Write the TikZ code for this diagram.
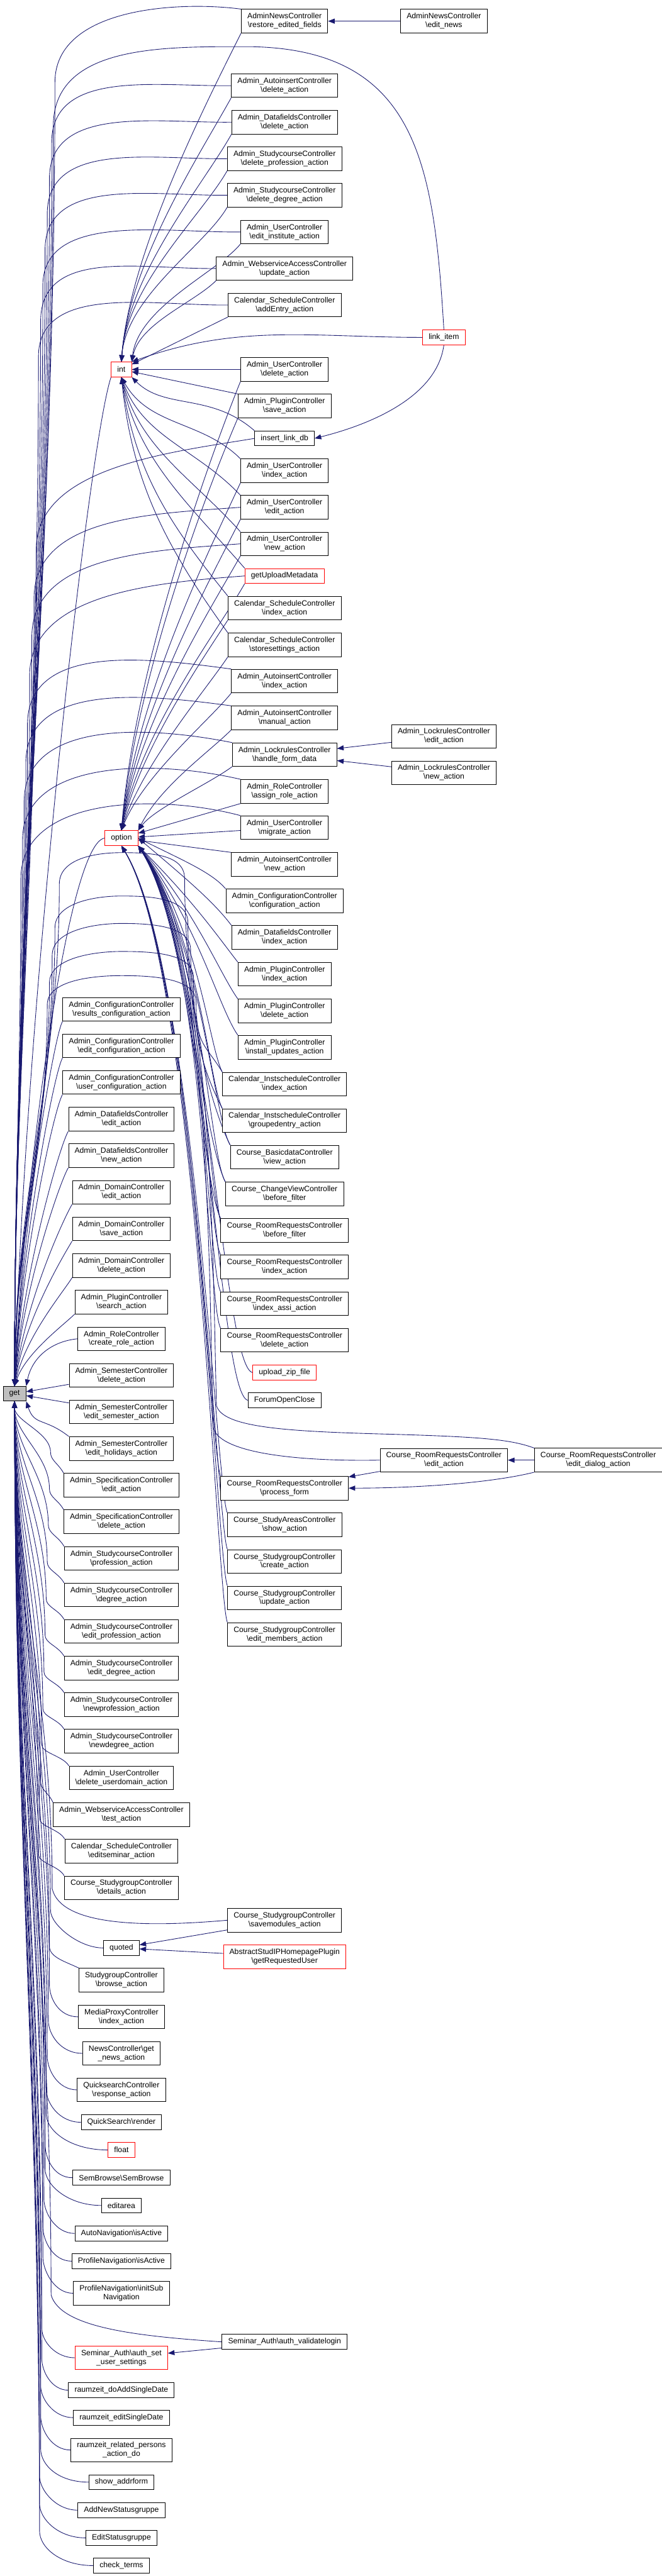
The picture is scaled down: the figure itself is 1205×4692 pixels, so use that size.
\documentclass[tikz,border=0pt]{standalone}
\usepackage{fontspec}
\setmainfont{Liberation Sans}
\usepackage{tikz}
\usetikzlibrary{arrows.meta,backgrounds}
\definecolor{navyline}{HTML}{191970}
\definecolor{rootfill}{HTML}{BFBFBF}
\definecolor{trunc}{HTML}{FF0000}
\tikzset{
  fn/.style={rectangle,draw=black,fill=white,line width=0.5pt,align=center,
    font=\fontsize{7}{8}\selectfont,inner xsep=5.5pt,inner ysep=3.5pt,minimum height=13.5pt},
  fnr/.style={fn,draw=trunc},
  fnroot/.style={fn,fill=rootfill},
  ar/.style={-{Triangle[length=6pt,width=4.6pt]},draw=navyline,line width=0.5pt},
}
\begin{document}
\begin{tikzpicture}[x=0.5pt,y=0.5pt]
  \useasboundingbox (0,0) rectangle (1205,-4692);
  \begin{scope}[on background layer]
    \fill[white] (0,0) rectangle (1205,-4692);
  \end{scope}
  \node[fnroot] (get) at (26.5,-2538.5) {get};
  \node[fnr] (int) at (221,-673) {int};
  \node[fnr] (option) at (221,-1526.5) {option};

  \node[fn] (nrest) at (518,-38.5) {AdminNewsController\\\textbackslash restore\_edited\_fields};
  \node[fn] (nedit) at (808,-38.5) {AdminNewsController\\\textbackslash edit\_news};
  \node[fn] (aidel) at (518,-156) {Admin\_AutoinsertController\\\textbackslash delete\_action};
  \node[fn] (dfdel) at (518,-222.5) {Admin\_DatafieldsController\\\textbackslash delete\_action};
  \node[fn] (scdelp) at (518,-289) {Admin\_StudycourseController\\\textbackslash delete\_profession\_action};
  \node[fn] (scdeld) at (518,-355.5) {Admin\_StudycourseController\\\textbackslash delete\_degree\_action};
  \node[fn] (uinst) at (518,-422.5) {Admin\_UserController\\\textbackslash edit\_institute\_action};
  \node[fn] (wsupd) at (518,-489) {Admin\_WebserviceAccessController\\\textbackslash update\_action};
  \node[fn] (calentry) at (518,-555.5) {Calendar\_ScheduleController\\\textbackslash addEntry\_action};
  \node[fnr] (linkitem) at (808,-614.5) {link\_item};
  \node[fn] (udel) at (518,-673) {Admin\_UserController\\\textbackslash delete\_action};
  \node[fn] (plsave) at (518,-739.5) {Admin\_PluginController\\\textbackslash save\_action};
  \node[fn] (insertlink) at (518,-798.5) {insert\_link\_db};
  \node[fn] (uindex) at (518,-857.5) {Admin\_UserController\\\textbackslash index\_action};
  \node[fn] (uedit) at (518,-924) {Admin\_UserController\\\textbackslash edit\_action};
  \node[fn] (unew) at (518,-990.5) {Admin\_UserController\\\textbackslash new\_action};
  \node[fnr] (getupload) at (518,-1049) {getUploadMetadata};
  \node[fn] (calindex) at (518,-1107.5) {Calendar\_ScheduleController\\\textbackslash index\_action};
  \node[fn] (calstore) at (518,-1174.5) {Calendar\_ScheduleController\\\textbackslash storesettings\_action};
  \node[fn] (aiindex) at (518,-1240.5) {Admin\_AutoinsertController\\\textbackslash index\_action};
  \node[fn] (aimanual) at (518,-1307.5) {Admin\_AutoinsertController\\\textbackslash manual\_action};
  \node[fn] (lrhandle) at (518,-1374.5) {Admin\_LockrulesController\\\textbackslash handle\_form\_data};
  \node[fn] (lredit) at (808,-1341) {Admin\_LockrulesController\\\textbackslash edit\_action};
  \node[fn] (lrnew) at (808,-1407.5) {Admin\_LockrulesController\\\textbackslash new\_action};
  \node[fn] (roleassign) at (518,-1441.5) {Admin\_RoleController\\\textbackslash assign\_role\_action};
  \node[fn] (umigrate) at (518,-1507.5) {Admin\_UserController\\\textbackslash migrate\_action};
  \node[fn] (ainew) at (518,-1574.5) {Admin\_AutoinsertController\\\textbackslash new\_action};
  \node[fn] (cfgconf) at (518,-1641) {Admin\_ConfigurationController\\\textbackslash configuration\_action};
  \node[fn] (dfindex) at (518,-1707.5) {Admin\_DatafieldsController\\\textbackslash index\_action};
  \node[fn] (plindex) at (518,-1774.5) {Admin\_PluginController\\\textbackslash index\_action};
  \node[fn] (pldel) at (518,-1841.5) {Admin\_PluginController\\\textbackslash delete\_action};
  \node[fn] (plinstall) at (518,-1907.5) {Admin\_PluginController\\\textbackslash install\_updates\_action};
  \node[fn] (isindex) at (518,-1974.5) {Calendar\_InstscheduleController\\\textbackslash index\_action};
  \node[fn] (isgroup) at (518,-2041) {Calendar\_InstscheduleController\\\textbackslash groupedentry\_action};
  \node[fn] (bdview) at (518,-2107.5) {Course\_BasicdataController\\\textbackslash view\_action};
  \node[fn] (cvbefore) at (518,-2174.5) {Course\_ChangeViewController\\\textbackslash before\_filter};
  \node[fn] (rrbefore) at (518,-2241) {Course\_RoomRequestsController\\\textbackslash before\_filter};
  \node[fn] (rrindex) at (518,-2307.5) {Course\_RoomRequestsController\\\textbackslash index\_action};
  \node[fn] (rrassi) at (518,-2374.5) {Course\_RoomRequestsController\\\textbackslash index\_assi\_action};
  \node[fn] (rrdel) at (518,-2441) {Course\_RoomRequestsController\\\textbackslash delete\_action};
  \node[fnr] (uploadzip) at (518,-2500) {upload\_zip\_file};
  \node[fn] (forum) at (518,-2550.5) {ForumOpenClose};
  \node[fn] (rredit) at (808,-2659.5) {Course\_RoomRequestsController\\\textbackslash edit\_action};
  \node[fn] (rrdialog) at (1089,-2659.5) {Course\_RoomRequestsController\\\textbackslash edit\_dialog\_action};
  \node[fn] (rrprocess) at (518,-2710.5) {Course\_RoomRequestsController\\\textbackslash process\_form};
  \node[fn] (sashow) at (518,-2777) {Course\_StudyAreasController\\\textbackslash show\_action};
  \node[fn] (sgcreate) at (518,-2844) {Course\_StudygroupController\\\textbackslash create\_action};
  \node[fn] (sgupdate) at (518,-2910.5) {Course\_StudygroupController\\\textbackslash update\_action};
  \node[fn] (sgmembers) at (518,-2977) {Course\_StudygroupController\\\textbackslash edit\_members\_action};
  \node[fn] (sgsave) at (518,-3497.5) {Course\_StudygroupController\\\textbackslash savemodules\_action};
  \node[fnr] (getreq) at (518,-3564) {AbstractStudIPHomepagePlugin\\\textbackslash getRequestedUser};
  \node[fn] (authvalid) at (518,-4265.5) {Seminar\_Auth\textbackslash auth\_validatelogin};

  \node[fn] (cfgres) at (221,-1838.5) {Admin\_ConfigurationController\\\textbackslash results\_configuration\_action};
  \node[fn] (cfgedit) at (221,-1905) {Admin\_ConfigurationController\\\textbackslash edit\_configuration\_action};
  \node[fn] (cfguser) at (221,-1971.5) {Admin\_ConfigurationController\\\textbackslash user\_configuration\_action};
  \node[fn] (dfedit) at (221,-2038.5) {Admin\_DatafieldsController\\\textbackslash edit\_action};
  \node[fn] (dfnew) at (221,-2105) {Admin\_DatafieldsController\\\textbackslash new\_action};
  \node[fn] (domedit) at (221,-2171.5) {Admin\_DomainController\\\textbackslash edit\_action};
  \node[fn] (domsave) at (221,-2238.5) {Admin\_DomainController\\\textbackslash save\_action};
  \node[fn] (domdel) at (221,-2305) {Admin\_DomainController\\\textbackslash delete\_action};
  \node[fn] (plsearch) at (221,-2371.5) {Admin\_PluginController\\\textbackslash search\_action};
  \node[fn] (rolecreate) at (221,-2438.5) {Admin\_RoleController\\\textbackslash create\_role\_action};
  \node[fn] (semdel) at (221,-2505) {Admin\_SemesterController\\\textbackslash delete\_action};
  \node[fn] (semedit) at (221,-2571.5) {Admin\_SemesterController\\\textbackslash edit\_semester\_action};
  \node[fn] (semhol) at (221,-2638.5) {Admin\_SemesterController\\\textbackslash edit\_holidays\_action};
  \node[fn] (specedit) at (221,-2705) {Admin\_SpecificationController\\\textbackslash edit\_action};
  \node[fn] (specdel) at (221,-2771.5) {Admin\_SpecificationController\\\textbackslash delete\_action};
  \node[fn] (scprof) at (221,-2838.5) {Admin\_StudycourseController\\\textbackslash profession\_action};
  \node[fn] (scdeg) at (221,-2905) {Admin\_StudycourseController\\\textbackslash degree\_action};
  \node[fn] (sceditp) at (221,-2971.5) {Admin\_StudycourseController\\\textbackslash edit\_profession\_action};
  \node[fn] (sceditd) at (221,-3038.5) {Admin\_StudycourseController\\\textbackslash edit\_degree\_action};
  \node[fn] (scnewp) at (221,-3105) {Admin\_StudycourseController\\\textbackslash newprofession\_action};
  \node[fn] (scnewd) at (221,-3171.5) {Admin\_StudycourseController\\\textbackslash newdegree\_action};
  \node[fn] (udeldom) at (221,-3238.5) {Admin\_UserController\\\textbackslash delete\_userdomain\_action};
  \node[fn] (wstest) at (221,-3305) {Admin\_WebserviceAccessController\\\textbackslash test\_action};
  \node[fn] (caledsem) at (221,-3371.5) {Calendar\_ScheduleController\\\textbackslash editseminar\_action};
  \node[fn] (sgdetails) at (221,-3438.5) {Course\_StudygroupController\\\textbackslash details\_action};
  \node[fn] (quoted) at (221,-3548) {quoted};
  \node[fn] (sgbrowse) at (221,-3606.5) {StudygroupController\\\textbackslash browse\_action};
  \node[fn] (mpindex) at (221,-3673.5) {MediaProxyController\\\textbackslash index\_action};
  \node[fn] (newsget) at (221,-3740) {NewsController\textbackslash get\\\_news\_action};
  \node[fn] (qsresp) at (221,-3806.5) {QuicksearchController\\\textbackslash response\_action};
  \node[fn] (qsrender) at (221,-3865.5) {QuickSearch\textbackslash render};
  \node[fnr] (float) at (221,-3916) {float};
  \node[fn] (sembrowse) at (221,-3966.5) {SemBrowse\textbackslash SemBrowse};
  \node[fn] (editarea) at (221,-4017) {editarea};
  \node[fn] (autonav) at (221,-4068) {AutoNavigation\textbackslash isActive};
  \node[fn] (profact) at (221,-4118.5) {ProfileNavigation\textbackslash isActive};
  \node[fn] (profsub) at (221,-4177) {ProfileNavigation\textbackslash initSub\\Navigation};
  \node[fnr] (authset) at (221,-4294.5) {Seminar\_Auth\textbackslash auth\_set\\\_user\_settings};
  \node[fn] (rzadd) at (221,-4353.5) {raumzeit\_doAddSingleDate};
  \node[fn] (rzedit) at (221,-4403.5) {raumzeit\_editSingleDate};
  \node[fn] (rzrel) at (221,-4462.5) {raumzeit\_related\_persons\\\_action\_do};
  \node[fn] (showaddr) at (221,-4521) {show\_addrform};
  \node[fn] (addsg) at (221,-4572) {AddNewStatusgruppe};
  \node[fn] (editsg) at (221,-4622.5) {EditStatusgruppe};
  \node[fn] (checkterms) at (221,-4673) {check\_terms};

  \begin{scope}[on background layer]
  \draw[ar] (nedit) -- (nrest);
  \draw[ar] (lredit) -- (lrhandle); \draw[ar] (lrnew) -- (lrhandle);
  \draw[ar] (rrdialog) -- (rredit); \draw[ar] (rredit) -- (rrprocess);
  \draw[ar] (rrdialog.south west) .. controls +(-80,-20) and +(120,0) .. (rrprocess.east);
  \draw[ar] (sgsave) -- (quoted); \draw[ar] (getreq) -- (quoted);
  \draw[ar] (authvalid) -- (authset);
  \draw[ar] (linkitem.south) .. controls +(-15,-110) and +(60,15) .. (insertlink.east);

  \draw[ar] (nrest.north west) .. controls (330,-2) and (100,-12) .. (100,-150) .. controls +(0,-900) and +(0,900) .. (get.north);
  \draw[ar] (linkitem.north) .. controls (790,-300) and (760,-90) .. (456,-85) .. controls (300,-85) and (97,-80) .. (97,-230) .. controls +(0,-880) and +(0,880) .. (get.north);
  \draw[ar] (aidel.west) .. controls +(-135,-2) and +(0,135) .. (94,-260) .. controls +(0,-880) and +(0,860) .. (get.north);
  \draw[ar] (dfdel.west) .. controls +(-135,-2) and +(0,135) .. (90,-325) .. controls +(0,-860) and +(0,840) .. (get.north);
  \draw[ar] (scdelp.west) .. controls +(-135,-2) and +(0,135) .. (86,-390) .. controls +(0,-835) and +(0,815) .. (get.north);
  \draw[ar] (scdeld.west) .. controls +(-135,-2) and +(0,135) .. (82,-455) .. controls +(0,-810) and +(0,790) .. (get.north);
  \draw[ar] (uinst.west) .. controls +(-135,-2) and +(0,135) .. (78,-520) .. controls +(0,-780) and +(0,765) .. (get.north);
  \draw[ar] (wsupd.west) .. controls +(-135,-2) and +(0,135) .. (74,-585) .. controls +(0,-755) and +(0,740) .. (get.north);
  \draw[ar] (calentry.west) .. controls +(-135,-2) and +(0,135) .. (70,-650) .. controls +(0,-730) and +(0,715) .. (get.north);
  \draw[ar] (insertlink.west) .. controls +(-150,-25) and +(0,150) .. (66,-1000) .. controls +(0,-595) and +(0,580) .. (get.north);
  \draw[ar] (uedit.west) .. controls +(-160,-12) and +(0,150) .. (62,-1090) .. controls +(0,-560) and +(0,545) .. (get.north);
  \draw[ar] (unew.west) .. controls +(-160,-12) and +(0,150) .. (58,-1160) .. controls +(0,-530) and +(0,520) .. (get.north);
  \draw[ar] (getupload.west) .. controls +(-160,-12) and +(0,150) .. (54,-1230) .. controls +(0,-505) and +(0,495) .. (get.north);
  \draw[ar] (aiindex.north west) .. controls +(-150,20) and +(0,150) .. (50,-1320) .. controls +(0,-470) and +(0,460) .. (get.north);
  \draw[ar] (aimanual.north west) .. controls +(-150,20) and +(0,150) .. (47,-1390) .. controls +(0,-445) and +(0,435) .. (get.north);
  \draw[ar] (lrhandle.north west) .. controls +(-150,30) and +(0,150) .. (44,-1460) .. controls +(0,-415) and +(0,405) .. (get.north);
  \draw[ar] (roleassign.north west) .. controls +(-150,35) and +(0,150) .. (41,-1530) .. controls +(0,-390) and +(0,380) .. (get.north);
  \draw[ar] (umigrate.north west) .. controls +(-150,40) and +(0,150) .. (38,-1600) .. controls +(0,-360) and +(0,350) .. (get.north);
  \draw[ar] (int.south west) .. controls +(-40,-120) and +(20,700) .. (get.north);
  \draw[ar] (option.west) .. controls +(-70,-10) and +(15,350) .. (get.north);

  \draw[ar] (rrbefore.north west) .. controls +(-30,60) and +(0,-150) .. (336,-1600) .. controls +(0,45) and +(50,0) .. (221,-1553) .. controls +(-50,0) and +(0,45) .. (108,-1610) .. controls +(0,-357) and +(0,350) .. (get.north);
  \draw[ar] (cvbefore.north west) .. controls +(-30,60) and +(0,-150) .. (342,-1680) .. controls +(0,45) and +(50,0) .. (221,-1632) .. controls +(-50,0) and +(0,45) .. (100,-1690) .. controls +(0,-325) and +(0,320) .. (get.north);
  \draw[ar] (bdview.north west) .. controls +(-30,60) and +(0,-150) .. (347,-1730) .. controls +(0,45) and +(50,0) .. (221,-1682) .. controls +(-50,0) and +(0,45) .. (95,-1740) .. controls +(0,-306) and +(0,300) .. (get.north);
  \draw[ar] (isgroup.north west) .. controls +(-30,60) and +(0,-120) .. (352,-1780) .. controls +(0,45) and +(50,0) .. (221,-1733) .. controls +(-50,0) and +(0,45) .. (90,-1790) .. controls +(0,-287) and +(0,280) .. (get.north);
  \draw[ar] (isindex.north west) .. controls +(-30,50) and +(0,-80) .. (357,-1825) .. controls +(0,45) and +(50,0) .. (221,-1777) .. controls +(-50,0) and +(0,45) .. (86,-1830) .. controls +(0,-271) and +(0,265) .. (get.north);

  \draw[ar] (nrest.south west) .. controls +(-60,-120) and +(15,200) .. (int.north);
  \draw[ar] (aidel.south west) .. controls +(-55,-100) and +(13,180) .. (int.north);
  \draw[ar] (dfdel.south west) .. controls +(-50,-90) and +(11,160) .. (int.north);
  \draw[ar] (scdelp.south west) .. controls +(-45,-80) and +(9,140) .. (int.north);
  \draw[ar] (scdeld.south west) .. controls +(-40,-70) and +(9,120) .. (int.north);
  \draw[ar] (uinst.south west) .. controls +(-40,-50) and +(12,100) .. (int.north east);
  \draw[ar] (wsupd.south west) .. controls +(-40,-40) and +(14,70) .. (int.north east);
  \draw[ar] (calentry.south west) -- (int);
  \draw[ar] (linkitem.west) .. controls +(-200,0) and +(195,70) .. (int.north east);
  \draw[ar] (udel) -- (int);
  \draw[ar] (plsave.north west) -- (int);
  \draw[ar] (insertlink.north west) .. controls +(-80,70) and +(60,-60) .. (int.south east);
  \draw[ar] (uindex.north west) .. controls +(-70,70) and +(50,-90) .. (int.south);
  \draw[ar] (uedit.north west) .. controls +(-80,85) and +(40,-110) .. (int.south);
  \draw[ar] (unew.north west) .. controls +(-90,100) and +(35,-130) .. (int.south);
  \draw[ar] (getupload.north west) .. controls +(-100,115) and +(30,-150) .. (int.south);
  \draw[ar] (calindex.north west) .. controls +(-110,135) and +(25,-170) .. (int.south);
  \draw[ar] (calstore.north west) .. controls +(-115,160) and +(20,-190) .. (int.south);

  \draw[ar] (udel.south west) .. controls +(-60,-150) and +(25,300) .. (option.north);
  \draw[ar] (plsave.south west) .. controls +(-60,-140) and +(28,280) .. (option.north);
  \draw[ar] (uindex.south west) .. controls +(-55,-120) and +(30,250) .. (option.north);
  \draw[ar] (uedit.south west) .. controls +(-50,-100) and +(30,220) .. (option.north);
  \draw[ar] (unew.south west) .. controls +(-50,-90) and +(32,200) .. (option.north);
  \draw[ar] (getupload.south west) .. controls +(-45,-80) and +(34,180) .. (option.north);
  \draw[ar] (calindex.south west) .. controls +(-45,-70) and +(36,150) .. (option.north);
  \draw[ar] (calstore.south west) .. controls +(-40,-60) and +(38,120) .. (option.north);
  \draw[ar] (aiindex.south west) .. controls +(-40,-50) and +(40,100) .. (option.north);
  \draw[ar] (aimanual.south west) .. controls +(-40,-40) and +(40,80) .. (option.north east);
  \draw[ar] (lrhandle.south west) .. controls +(-40,-30) and +(30,40) .. (option.north east);
  \draw[ar] (roleassign.south west) -- (option);
  \draw[ar] (umigrate) -- (option);
  \draw[ar] (ainew.north west) -- (option);
  \draw[ar] (cfgconf.north west) .. controls +(-25,30) and +(80,-40) .. (option.east);
  \draw[ar] (dfindex.north west) .. controls +(-30,40) and +(95,-80) .. (option.east);
  \draw[ar] (plindex.north west) .. controls +(-35,45) and +(100,-100) .. (option.south east);
  \draw[ar] (pldel.north west) .. controls +(-35,50) and +(105,-120) .. (option.south east);
  \draw[ar] (plinstall.north west) .. controls +(-35,50) and +(108,-140) .. (option.south east);
  \draw[ar] (isindex.north west) .. controls +(-25,50) and +(110,-150) .. (option.south east);
  \draw[ar] (isgroup.north west) .. controls +(-25,50) and +(112,-160) .. (option.south east);
  \draw[ar] (bdview.north west) .. controls +(-30,50) and +(114,-170) .. (option.south east);
  \draw[ar] (cvbefore.north west) .. controls +(-30,50) and +(116,-175) .. (option.south east);
  \draw[ar] (rrbefore.north west) .. controls +(-25,50) and +(118,-180) .. (option.south east);
  \draw[ar] (rrindex.north west) .. controls +(-25,50) and +(120,-185) .. (option.south east);
  \draw[ar] (rrassi.north west) .. controls +(-25,50) and +(122,-190) .. (option.south east);
  \draw[ar] (rrdel.north west) .. controls +(-25,50) and +(124,-195) .. (option.south east);
  \draw[ar] (uploadzip.west) .. controls +(-55,10) and +(126,-200) .. (option.south east);
  \draw[ar] (forum.west) .. controls +(-55,10) and +(128,-205) .. (option.south east);
  \draw[ar] (rredit.west) .. controls (560,-2662) and (400,-2650) .. (388,-2600) .. controls (380,-2300) and (383,-1720) .. (option.south east);
  \draw[ar] (rrdialog.north west) .. controls (930,-2622) and (880,-2617) .. (700,-2612) .. controls (520,-2607) and (405,-2600) .. (394,-2560) .. controls (386,-2250) and (388,-1720) .. (option.south east);
  \draw[ar] (rrprocess.north west) .. controls +(-20,50) and +(130,-210) .. (option.south);
  \draw[ar] (sashow.north west) .. controls +(-20,50) and +(132,-215) .. (option.south);
  \draw[ar] (sgcreate.north west) .. controls +(-20,50) and +(134,-220) .. (option.south);
  \draw[ar] (sgupdate.north west) .. controls +(-20,50) and +(136,-225) .. (option.south);
  \draw[ar] (sgmembers.north west) .. controls +(-20,50) and +(138,-230) .. (option.south);

  \draw[ar] (cfgres.south west) .. controls +(-15,-25) and +(14,300) .. (get.north);
  \draw[ar] (cfgedit.south west) .. controls +(-15,-25) and +(14,270) .. (get.north);
  \draw[ar] (cfguser.south west) .. controls +(-15,-25) and +(14,240) .. (get.north);
  \draw[ar] (dfedit.south west) .. controls +(-15,-25) and +(16,210) .. (get.north);
  \draw[ar] (dfnew.south west) .. controls +(-15,-25) and +(16,180) .. (get.north);
  \draw[ar] (domedit.south west) .. controls +(-15,-25) and +(18,150) .. (get.north);
  \draw[ar] (domsave.south west) .. controls +(-15,-25) and +(18,120) .. (get.north);
  \draw[ar] (domdel.south west) .. controls +(-15,-25) and +(20,90) .. (get.north);
  \draw[ar] (plsearch.south west) .. controls +(-20,-20) and +(20,60) .. (get.north);
  \draw[ar] (rolecreate.west) .. controls +(-50,-5) and +(10,50) .. (get.north east);
  \draw[ar] (semdel) -- (get); \draw[ar] (semedit) -- (get);
  \draw[ar] (semhol.north west) .. controls +(-45,35) and +(15,-45) .. (get.south east);

  \draw[ar] (specedit.north west) .. controls +(-10,18) and +(0,-15) .. (92,-2645) .. controls +(0,36) and +(0,-36) .. (get.south);
  \draw[ar] (specdel.north west) .. controls +(-10,18) and +(0,-15) .. (90,-2712) .. controls +(0,62) and +(0,-60) .. (get.south);
  \draw[ar] (scprof.north west) .. controls +(-10,18) and +(0,-15) .. (88,-2778) .. controls +(0,88) and +(0,-85) .. (get.south);
  \draw[ar] (scdeg.north west) .. controls +(-10,18) and +(0,-15) .. (86,-2845) .. controls +(0,114) and +(0,-110) .. (get.south);
  \draw[ar] (sceditp.north west) .. controls +(-10,18) and +(0,-15) .. (84,-2912) .. controls +(0,140) and +(0,-135) .. (get.south);
  \draw[ar] (sceditd.north west) .. controls +(-10,18) and +(0,-15) .. (82,-2978) .. controls +(0,166) and +(0,-160) .. (get.south);
  \draw[ar] (scnewp.north west) .. controls +(-10,18) and +(0,-15) .. (80,-3045) .. controls +(0,192) and +(0,-185) .. (get.south);
  \draw[ar] (scnewd.north west) .. controls +(-10,18) and +(0,-15) .. (78,-3112) .. controls +(0,218) and +(0,-210) .. (get.south);
  \draw[ar] (udeldom.north west) .. controls +(-10,18) and +(0,-15) .. (76,-3178) .. controls +(0,244) and +(0,-235) .. (get.south);
  \draw[ar] (wstest.north west) .. controls +(-8,18) and +(0,-15) .. (74,-3245) .. controls +(0,270) and +(0,-260) .. (get.south);
  \draw[ar] (caledsem.north west) .. controls +(-10,18) and +(0,-15) .. (72,-3312) .. controls +(0,296) and +(0,-285) .. (get.south);
  \draw[ar] (sgdetails.north west) .. controls +(-10,18) and +(0,-15) .. (70,-3378) .. controls +(0,322) and +(0,-310) .. (get.south);
  \draw[ar] (sgsave.west) .. controls (250,-3512) and (110,-3505) .. (95,-3440) .. controls +(0,346) and +(0,-335) .. (get.south);
  \draw[ar] (quoted.west) .. controls +(-45,0) and +(0,-25) .. (92,-3480) .. controls +(0,362) and +(0,-350) .. (get.south);
  \draw[ar] (sgbrowse.north west) .. controls +(-25,12) and +(0,-20) .. (90,-3545) .. controls +(0,387) and +(0,-375) .. (get.south);
  \draw[ar] (mpindex.west) .. controls +(-35,0) and +(0,-25) .. (90,-3615) .. controls +(0,415) and +(0,-400) .. (get.south);
  \draw[ar] (newsget.west) .. controls +(-40,0) and +(0,-25) .. (88,-3680) .. controls +(0,440) and +(0,-425) .. (get.south);
  \draw[ar] (qsresp.west) .. controls +(-35,0) and +(0,-25) .. (86,-3745) .. controls +(0,465) and +(0,-450) .. (get.south);
  \draw[ar] (qsrender.west) .. controls +(-40,0) and +(0,-25) .. (84,-3805) .. controls +(0,489) and +(0,-470) .. (get.south);
  \draw[ar] (float.west) .. controls +(-70,0) and +(0,-30) .. (84,-3850) .. controls +(0,506) and +(0,-490) .. (get.south);
  \draw[ar] (sembrowse.west) .. controls +(-35,0) and +(0,-25) .. (82,-3905) .. controls +(0,528) and +(0,-510) .. (get.south);
  \draw[ar] (editarea.west) .. controls +(-60,0) and +(0,-30) .. (82,-3950) .. controls +(0,545) and +(0,-525) .. (get.south);
  \draw[ar] (autonav.west) .. controls +(-35,0) and +(0,-25) .. (80,-4005) .. controls +(0,567) and +(0,-545) .. (get.south);
  \draw[ar] (profact.west) .. controls +(-35,0) and +(0,-25) .. (78,-4055) .. controls +(0,586) and +(0,-565) .. (get.south);
  \draw[ar] (profsub.west) .. controls +(-35,0) and +(0,-25) .. (78,-4110) .. controls +(0,608) and +(0,-585) .. (get.south);
  \draw[ar] (authvalid.west) .. controls (250,-4255) and (110,-4240) .. (93,-4180) .. controls +(0,635) and +(0,-610) .. (get.south);
  \draw[ar] (authset.west) .. controls +(-35,0) and +(0,-25) .. (76,-4240) .. controls +(0,658) and +(0,-635) .. (get.south);
  \draw[ar] (rzadd.west) .. controls +(-30,0) and +(0,-25) .. (76,-4295) .. controls +(0,680) and +(0,-655) .. (get.south);
  \draw[ar] (rzedit.west) .. controls +(-35,0) and +(0,-25) .. (74,-4345) .. controls +(0,699) and +(0,-675) .. (get.south);
  \draw[ar] (rzrel.west) .. controls +(-35,0) and +(0,-25) .. (74,-4400) .. controls +(0,721) and +(0,-695) .. (get.south);
  \draw[ar] (showaddr.west) .. controls +(-55,0) and +(0,-30) .. (74,-4460) .. controls +(0,744) and +(0,-715) .. (get.south);
  \draw[ar] (addsg.west) .. controls +(-40,0) and +(0,-25) .. (72,-4510) .. controls +(0,764) and +(0,-735) .. (get.south);
  \draw[ar] (editsg.west) .. controls +(-50,0) and +(0,-28) .. (72,-4560) .. controls +(0,783) and +(0,-755) .. (get.south);
  \draw[ar] (checkterms.west) .. controls +(-60,0) and +(0,-30) .. (72,-4610) .. controls +(0,803) and +(0,-775) .. (get.south);
  \end{scope}
\end{tikzpicture}
\end{document}
